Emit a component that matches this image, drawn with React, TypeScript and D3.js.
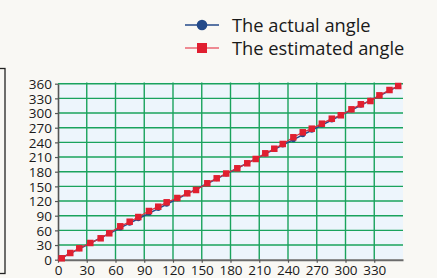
import React, { useRef, useEffect } from "react";
import * as d3 from "d3";

// x = actual angle (deg), estimated angle
const actualAngle = [
  3.9, 12.8, 22.2, 33.7, 44.5, 53.5, 65.0, 74.8, 83.8, 94.9, 104.6, 113.4,
  124.5, 134.9, 144.0, 155.8, 165.6, 175.5, 187.1, 197.5, 206.3, 216.3, 225.7,
  234.5, 245.6, 255.4, 264.8, 275.3, 285.7, 295.1, 306.2, 316.0, 326.0, 335.4,
  345.9, 355.0,
];
const estimatedAngle = [
  2.9, 13.7, 23.3, 34.2, 43.8, 54.0, 68.3, 77.7, 87.3, 99.6, 108.4, 117.4,
  126.2, 135.8, 142.6, 156.3, 166.5, 176.3, 187.0, 197.2, 206.0, 217.6, 227.0,
  236.7, 250.4, 260.6, 268.0, 278.2, 288.4, 295.4, 307.6, 317.9, 324.6, 336.2,
  347.1, 355.3,
];
const xTicks = [0, 30, 60, 90, 120, 150, 180, 210, 240, 270, 300, 330];
const yTicks = [0, 30, 60, 90, 120, 150, 180, 210, 240, 270, 300, 330, 360];
const seriesNames = ["The actual angle", "The estimated angle"];

const App = () => {
  const ref = useRef<SVGSVGElement>(null);

  useEffect(() => {
    document.body.style.margin = "0";
    const svg = d3.select(ref.current);
    svg.selectAll("*").remove();

    const width = 437;
    const height = 278;
    const font = "'Open Sans', 'Noto Sans', sans-serif";

    const blue = "#234a8a";
    const red = "#e01f30";
    const grid = "#1aa35d";

    svg
      .append("rect")
      .attr("width", width)
      .attr("height", height)
      .attr("fill", "#f9f8f4");

    // partial frame at left edge
    svg
      .append("rect")
      .attr("x", -20)
      .attr("y", 68.5)
      .attr("width", 25)
      .attr("height", 205)
      .attr("fill", "none")
      .attr("stroke", "#222")
      .attr("stroke-width", 1.3);

    const x = d3.scaleLinear().domain([0, 360]).range([58, 403]);
    const y = d3.scaleLinear().domain([0, 360]).range([259.7, 83.7]);

    // plot background
    svg
      .append("rect")
      .attr("x", 58)
      .attr("y", 82.5)
      .attr("width", 345)
      .attr("height", 177)
      .attr("fill", "#edf5fc");

    // grid
    svg
      .append("g")
      .selectAll("line")
      .data(xTicks.slice(1))
      .join("line")
      .attr("x1", (d) => x(d))
      .attr("x2", (d) => x(d))
      .attr("y1", 82.5)
      .attr("y2", 259.7)
      .attr("stroke", grid)
      .attr("stroke-width", 1.4);

    svg
      .append("g")
      .selectAll("line")
      .data(yTicks.slice(1))
      .join("line")
      .attr("x1", 58)
      .attr("x2", 403)
      .attr("y1", (d) => y(d))
      .attr("y2", (d) => y(d))
      .attr("stroke", grid)
      .attr("stroke-width", 1.4);

    // axes
    const xAxis = svg
      .append("g")
      .attr("transform", `translate(0,${y(0)})`)
      .call(d3.axisBottom(x).tickValues(xTicks).tickSize(3).tickSizeOuter(0));
    xAxis.select(".domain").attr("stroke", "#6b6b6b").attr("stroke-width", 2);
    xAxis.selectAll(".tick line").attr("stroke", "#555").attr("stroke-width", 1.2);
    xAxis
      .selectAll("text")
      .attr("font-family", font)
      .attr("font-size", 13.5)
      .attr("fill", "#1a1a1a")
      .attr("dy", "0.9em")
      .attr("y", 3);

    const yAxis = svg
      .append("g")
      .attr("transform", `translate(${x(0)},0)`)
      .call(d3.axisLeft(y).tickValues(yTicks).tickSize(3).tickSizeOuter(0));
    yAxis.select(".domain").attr("stroke", "#555").attr("stroke-width", 1.6);
    yAxis.selectAll(".tick line").attr("stroke", "#555").attr("stroke-width", 1.2);
    yAxis
      .selectAll("text")
      .attr("font-family", font)
      .attr("font-size", 13.5)
      .attr("fill", "#1a1a1a")
      .attr("x", -6)
      .attr("dy", "0.36em");

    const actualXY = actualAngle.map((a) => ({ x: a, y: a }));
    const estXY = actualAngle.map((a, i) => ({ x: a, y: estimatedAngle[i] }));

    const lineGenerator = d3
      .line<{ x: number; y: number }>()
      .x((d) => x(d.x))
      .y((d) => y(d.y));

    // actual line + points
    svg
      .append("path")
      .datum([{ x: 0, y: 0 }, ...actualXY])
      .attr("fill", "none")
      .attr("stroke", blue)
      .attr("stroke-width", 1.5)
      .attr("d", lineGenerator);

    svg
      .append("g")
      .selectAll("circle")
      .data(actualXY)
      .join("circle")
      .attr("cx", (d) => x(d.x))
      .attr("cy", (d) => y(d.y))
      .attr("r", 2.5)
      .attr("fill", blue);

    // estimated line + points
    svg
      .append("path")
      .datum([{ x: 0, y: 0 }, ...estXY])
      .attr("fill", "none")
      .attr("stroke", "#d8303f")
      .attr("stroke-width", 1.3)
      .attr("d", lineGenerator);

    const sq = 6.5;
    svg
      .append("g")
      .selectAll("rect")
      .data(estXY)
      .join("rect")
      .attr("x", (d) => x(d.x) - sq / 2)
      .attr("y", (d) => y(d.y) - sq / 2)
      .attr("width", sq)
      .attr("height", sq)
      .attr("fill", red);

    // legend
    const legend = svg.append("g");
    const rows = [
      { name: seriesNames[0], y: 25, color: blue, lineColor: blue },
      { name: seriesNames[1], y: 48, color: red, lineColor: "#ee8a92" },
    ];
    rows.forEach((r, i) => {
      legend
        .append("line")
        .attr("x1", 185)
        .attr("x2", 219)
        .attr("y1", r.y)
        .attr("y2", r.y)
        .attr("stroke", r.lineColor)
        .attr("stroke-width", i === 0 ? 1.3 : 2);
      if (i === 0) {
        legend
          .append("circle")
          .attr("cx", 202)
          .attr("cy", r.y)
          .attr("r", 5.3)
          .attr("fill", r.color);
      } else {
        legend
          .append("rect")
          .attr("x", 197)
          .attr("y", r.y - 5)
          .attr("width", 10)
          .attr("height", 10)
          .attr("fill", r.color);
      }
      legend
        .append("text")
        .attr("x", 232)
        .attr("y", r.y + 6.5)
        .attr("font-family", font)
        .attr("font-size", 18.3)
        .attr("fill", "#1a1a1a")
        .text(r.name);
    });
  }, []);

  return <svg ref={ref} width={437} height={278} style={{ display: "block" }}></svg>;
};

export default App;
